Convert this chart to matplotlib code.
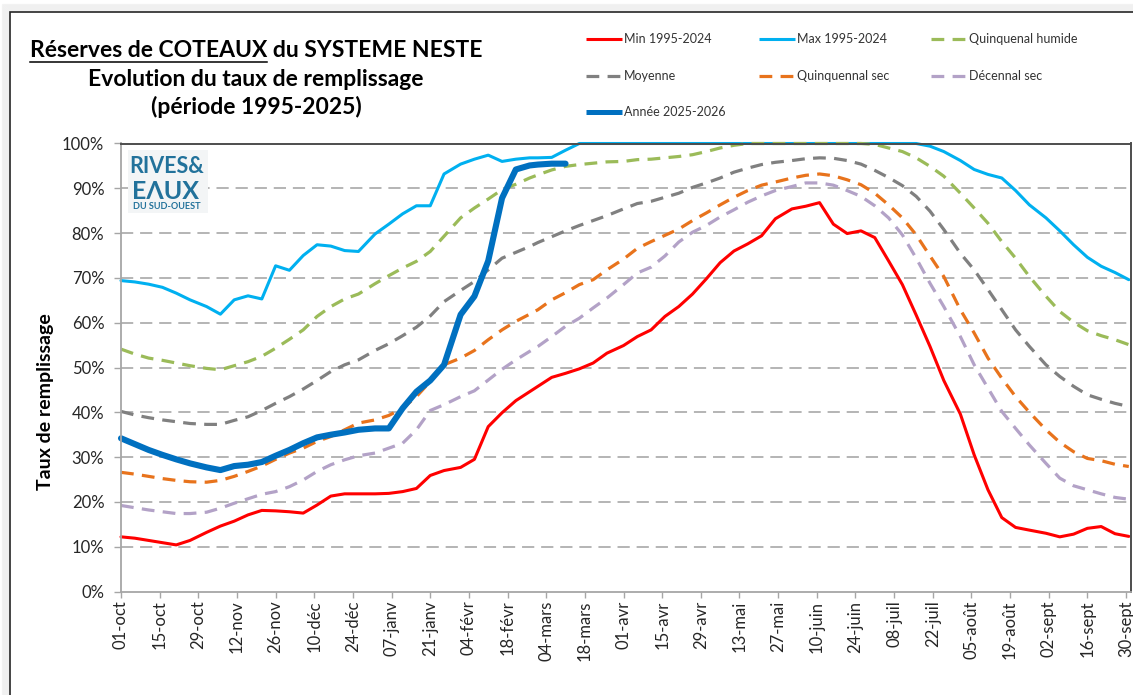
import datetime as dt
import matplotlib
matplotlib.use("Agg")
from matplotlib import pyplot as plt
from matplotlib.lines import Line2D
from matplotlib.patches import Rectangle
import numpy as np

plt.rcParams["font.family"] = ["Lato", "DejaVu Sans"]

W, H = 1133, 695
START = dt.date(2025, 10, 1)

# sampling dates : 1, 6, 11, 16, 21, 26 of each month, plus 01-oct at the end
months = [10, 11, 12, 1, 2, 3, 4, 5, 6, 7, 8, 9]
sample_dates = [dt.date(2025 + (m < 10), m, d) for m in months for d in (1, 6, 11, 16, 21, 26)]
sample_dates.append(dt.date(2026, 10, 1))
days = np.array([(d - START).days for d in sample_dates])

min_1995_2024 = [
    12.2, 11.9, 11.4, 10.9, 10.4, 11.4,
    13.2, 14.6, 15.7, 17.1, 18.1, 18.0,
    17.8, 17.5, 19.3, 21.3, 21.8, 21.8,
    21.8, 21.9, 22.3, 23.0, 25.9, 27.0,
    27.7, 29.5, 36.8, 39.9, 42.6, 44.6,
    45.8, 47.8, 48.7, 49.7, 51.0, 53.2,
    54.9, 56.9, 58.4, 61.4, 63.6, 66.4,
    69.8, 73.4, 76.0, 77.6, 79.4, 83.2,
    85.4, 86.0, 86.8, 82.0, 79.9, 80.5,
    79.0, 73.8, 68.5, 61.7, 54.7, 47.1,
    39.6, 30.5, 22.7, 16.5, 14.3, 13.7,
    13.0, 12.2, 12.8, 14.1, 14.5, 12.9,
    12.3,
]
max_1995_2024 = [
    69.4, 69.1, 68.6, 67.9, 66.6, 65.1,
    63.6, 61.9, 65.1, 66.0, 65.3, 72.7,
    71.7, 75.0, 77.4, 77.1, 76.1, 75.9,
    79.8, 82.0, 84.3, 86.1, 86.1, 93.2,
    95.4, 96.5, 97.4, 96.0, 96.5, 96.8,
    96.8, 96.9, 98.5, 100, 100, 100,
    100, 100, 100, 100, 100, 100,
    100, 100, 100, 100, 100, 100,
    100, 100, 100, 100, 100, 100,
    100, 100, 100, 100, 99.4, 98.2,
    96.2, 94.2, 93.1, 92.3, 89.5, 86.3,
    83.4, 80.5, 77.4, 74.6, 72.6, 71.2,
    69.6,
]
quinquenal_humide = [
    54.1, 53.0, 52.1, 51.6, 51.0, 50.4,
    49.8, 49.5, 50.4, 51.3, 52.5, 54.3,
    56.3, 58.4, 61.4, 63.6, 65.3, 66.4,
    68.7, 70.5, 72.2, 73.7, 75.9, 79.3,
    83.4, 85.6, 87.6, 89.7, 90.9, 92.3,
    93.0, 94.1, 94.9, 95.3, 95.6, 95.9,
    96.0, 96.4, 96.5, 96.8, 97.1, 97.5,
    98.2, 99.0, 99.6, 100, 100, 100,
    100, 100, 100, 100, 100, 100,
    99.8, 99.0, 98.2, 96.8, 94.9, 92.7,
    88.9, 85.6, 82.2, 78.1, 74.4, 70.3,
    65.9, 62.5, 60.1, 58.2, 57.1, 56.2,
    55.1,
]
moyenne = [
    40.2, 39.4, 38.8, 38.3, 37.9, 37.5,
    37.3, 37.3, 38.2, 39.0, 40.4, 42.0,
    43.5, 45.2, 47.1, 49.1, 50.6, 51.7,
    53.8, 55.3, 57.1, 59.0, 61.5, 64.7,
    67.2, 69.2, 71.8, 74.4, 75.7, 77.0,
    77.9, 79.2, 80.5, 81.7, 82.8, 83.9,
    85.4, 86.6, 87.1, 88.0, 88.9, 90.2,
    91.2, 92.3, 93.6, 94.5, 95.3, 95.8,
    96.2, 96.6, 96.8, 96.7, 96.2, 95.4,
    94.0, 92.4, 90.6, 88.2, 84.9, 80.8,
    75.5, 71.8, 67.4, 62.9, 58.4, 54.7,
    50.6, 48.0, 45.8, 43.9, 42.9, 42.0,
    41.3,
]
quinquennal_sec = [
    26.6, 26.2, 25.7, 25.2, 24.8, 24.5,
    24.4, 24.8, 25.7, 26.8, 28.0, 29.5,
    30.9, 32.0, 33.5, 34.6, 36.1, 37.6,
    38.3, 39.3, 40.9, 43.5, 46.9, 50.6,
    52.1, 53.8, 56.2, 58.4, 60.3, 61.9,
    62.9, 65.1, 66.7, 68.5, 69.6, 71.8,
    74.2, 76.6, 78.1, 79.5, 80.9, 82.8,
    84.5, 86.3, 88.0, 89.5, 90.7, 91.4,
    92.3, 92.9, 93.2, 92.8, 91.9, 90.8,
    88.9, 86.3, 83.4, 79.6, 74.9, 70.3,
    62.9, 57.7, 52.1, 47.6, 43.5, 40.0,
    36.1, 33.3, 31.2, 29.7, 29.2, 28.4,
    27.9,
]
decennal_sec = [
    19.2, 18.7, 18.2, 17.8, 17.4, 17.4,
    17.7, 18.6, 19.7, 20.7, 21.7, 22.3,
    23.4, 24.9, 26.8, 28.3, 29.4, 30.3,
    30.9, 32.0, 33.1, 36.1, 40.4, 41.7,
    43.5, 44.8, 47.2, 49.6, 51.7, 53.6,
    54.7, 56.9, 59.2, 61.0, 63.3, 65.5,
    68.5, 71.1, 72.4, 74.9, 78.0, 80.2,
    81.7, 83.6, 85.2, 86.9, 88.3, 89.5,
    90.4, 91.2, 91.2, 90.7, 89.5, 88.2,
    86.1, 83.4, 79.6, 74.4, 68.8, 63.6,
    56.9, 50.6, 45.4, 40.2, 36.4, 32.7,
    28.6, 25.3, 23.6, 22.7, 21.8, 21.0,
    20.6,
]
# current year, available up to 11 march
annee_2025_2026 = [
    34.2, 32.9, 31.6, 30.5, 29.5, 28.6,
    27.7, 27.1, 28.0, 28.3, 28.9, 30.3,
    31.6, 33.1, 34.4, 35.0, 35.5, 36.1,
    36.4, 36.4, 40.9, 44.6, 47.1, 50.6,
    61.8, 65.9, 73.8, 87.8, 94.2, 95.1,
    95.3, 95.5, 95.5,
]

x_tick_labels = [
    "01-oct", "15-oct", "29-oct", "12-nov", "26-nov", "10-déc", "24-déc",
    "07-janv", "21-janv", "04-févr", "18-févr", "04-mars", "18-mars",
    "01-avr", "15-avr", "29-avr", "13-mai", "27-mai", "10-juin", "24-juin",
    "08-juil", "22-juil", "05-août", "19-août", "02-sept", "16-sept", "30-sept",
]
y_ticks = [0, 10, 20, 30, 40, 50, 60, 70, 80, 90, 100]

dash = (0, (4, 2.6))
styles = {
    "Min 1995-2024": dict(color="#FF0000", lw=2.2, ls="-"),
    "Max 1995-2024": dict(color="#00B0F0", lw=2.2, ls="-"),
    "Quinquenal humide": dict(color="#9BBB59", lw=2.3, ls=dash),
    "Moyenne": dict(color="#808080", lw=2.3, ls=dash),
    "Quinquennal sec": dict(color="#E8731C", lw=2.3, ls=dash),
    "Décennal sec": dict(color="#B3A2C7", lw=2.3, ls=dash),
    "Année 2025-2026": dict(color="#0070C0", lw=4.4, ls="-"),
}
# drawing order (last on top)
series = [
    ("Max 1995-2024", max_1995_2024),
    ("Min 1995-2024", min_1995_2024),
    ("Décennal sec", decennal_sec),
    ("Quinquennal sec", quinquennal_sec),
    ("Moyenne", moyenne),
    ("Quinquenal humide", quinquenal_humide),
    ("Année 2025-2026", annee_2025_2026),
]


def fx(px):
    return px / W


def fy(py):
    return 1 - py / H


fig = plt.figure(figsize=(W / 100, H / 100), dpi=100)
fig.patch.set_facecolor("white")

# outer frame with a soft shadow
for i in range(1, 9):
    fig.add_artist(Rectangle((fx(10 - i), fy(H + 20)), fx(W + 40), (H + 8 + i) / H,
                             transform=fig.transFigure, fill=False,
                             edgecolor="#000000", alpha=0.045, lw=1.0, zorder=-2))
fig.add_artist(Rectangle((fx(10), fy(H + 20)), fx(W + 40), (H + 8) / H,
                         transform=fig.transFigure, fill=False,
                         edgecolor="#262626", lw=1.2, zorder=-1))

ax = fig.add_axes([fx(121), fy(591.5), fx(1010), 448 / H])
ax.set_facecolor("white")

for name, values in series:
    st = styles[name]
    ax.plot(days[: len(values)], values, color=st["color"], lw=st["lw"], ls=st["ls"],
            solid_joinstyle="round", solid_capstyle="round",
            dash_capstyle="butt", clip_on=False)

ax.set_xlim(0, 365.8)
ax.set_ylim(0, 100)
ax.set_xticks(np.arange(0, 365, 14))
ax.set_xticklabels(x_tick_labels, rotation=90, fontsize=12, color="#262626")
ax.set_yticks(y_ticks)
ax.set_yticklabels(["{}%".format(v) for v in y_ticks], fontsize=12, color="#262626")
ax.tick_params(axis="x", direction="out", length=4.5, width=1, color="#A6A6A6", pad=2)
ax.tick_params(axis="y", direction="out", length=5, width=1, color="#A6A6A6", pad=7)

for v in y_ticks[1:-1]:
    ax.axhline(v, color="#A0A0A0", lw=1.1, ls=(0, (8, 4.5)), zorder=0.5)

ax.spines["left"].set_color("#A6A6A6")
ax.spines["bottom"].set_color("#A6A6A6")
ax.spines["left"].set_linewidth(1.3)
ax.spines["bottom"].set_linewidth(1.3)
ax.spines["top"].set_color("#4D4D4D")
ax.spines["right"].set_color("#4D4D4D")
ax.spines["top"].set_linewidth(1.4)
ax.spines["right"].set_linewidth(1.4)

ax.set_ylabel("Taux de remplissage", fontsize=14, fontweight="bold", color="black")
ax.yaxis.set_label_coords(-0.066, 0.423)

# title, three centred lines, first part underlined
title_kw = dict(fontsize=16.5, fontweight="bold", color="black", ha="center", va="baseline")
t1 = fig.text(fx(256), fy(57), "Réserves de COTEAUX du SYSTEME NESTE", **title_kw)
fig.text(fx(256), fy(86), "Evolution du taux de remplissage", **title_kw)
fig.text(fx(256), fy(114), "(période 1995-2025)", **title_kw)

fig.canvas.draw()
renderer = fig.canvas.get_renderer()
bb = t1.get_window_extent(renderer)
tmp = fig.text(0, 0, "Réserves de COTEAUX", **title_kw)
w_part = tmp.get_window_extent(renderer).width
tmp.remove()
fig.add_artist(Line2D([bb.x0 / W, (bb.x0 + w_part) / W], [fy(61.5), fy(61.5)],
                      transform=fig.transFigure, color="black", lw=1.1))

# legend, drawn by hand to match the layout
legend_cells = [
    ("Min 1995-2024", 586, 39), ("Max 1995-2024", 759, 39), ("Quinquenal humide", 931, 39),
    ("Moyenne", 586, 75.5), ("Quinquennal sec", 759, 75.5), ("Décennal sec", 931, 75.5),
    ("Année 2025-2026", 586, 111.5),
]
for name, x0, yc in legend_cells:
    st = styles[name]
    lw = st["lw"] if name != "Année 2025-2026" else 3.6
    fig.add_artist(Line2D([fx(x0), fx(x0 + 36)], [fy(yc), fy(yc)], transform=fig.transFigure,
                          color=st["color"], lw=lw, ls=st["ls"], solid_capstyle="butt",
                          dash_capstyle="butt"))
    fig.text(fx(x0 + 38), fy(yc), name, fontsize=9, color="#333333", ha="left", va="center")

# logo
logo_c = "#22729B"
fig.add_artist(Rectangle((fx(128), fy(213)), fx(80), 63 / H, transform=fig.transFigure,
                         facecolor="#F3F5F6", edgecolor="none", zorder=2))
fig.text(fx(167), fy(173), "RIVES&", fontsize=15.5, fontweight="bold", color=logo_c,
         ha="center", va="baseline", zorder=3)
fig.text(fx(166), fy(199), "EΛUX", fontsize=18, fontweight="bold", color=logo_c,
         ha="center", va="baseline", zorder=3)
fig.text(fx(167), fy(208.5), "DU SUD-OUEST", fontsize=6.6, fontweight="bold", color=logo_c,
         ha="center", va="baseline", zorder=3)

fig.savefig("out.png", dpi=100)
